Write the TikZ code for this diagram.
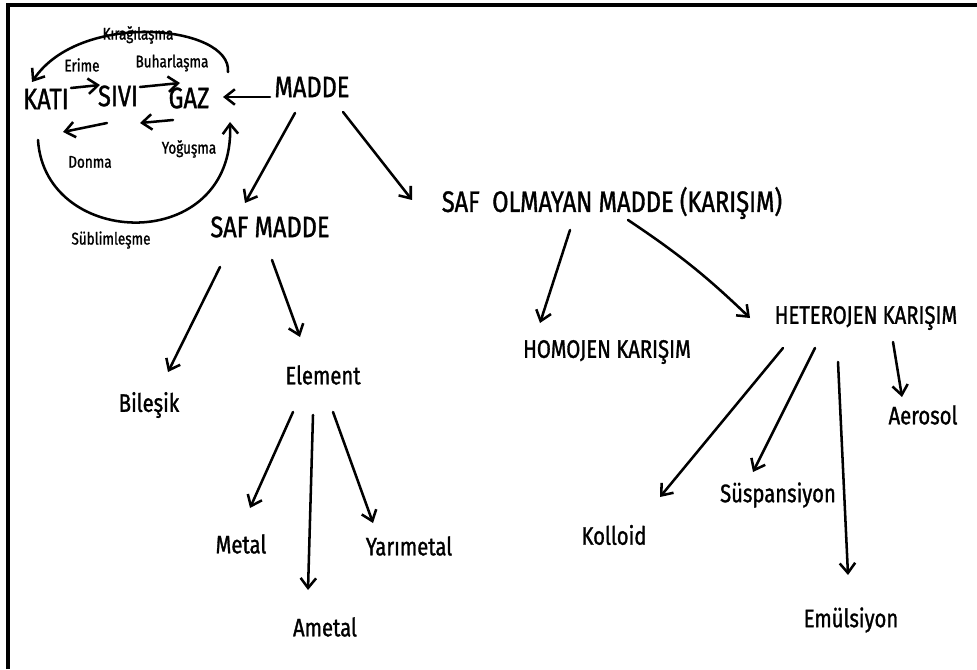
\documentclass[tikz,border=0pt]{standalone}
\usepackage{fontspec}
\setmainfont{Fira Sans}[FakeStretch=0.8,FakeBold=1.2]
\usetikzlibrary{arrows.meta}
\tikzset{
  big/.style={inner sep=0pt,font=\fontsize{21}{21}\selectfont},
  mid/.style={inner sep=0pt,font=\fontsize{18}{18}\selectfont},
  sml/.style={inner sep=0pt,font=\fontsize{12}{12}\selectfont},
  ok/.style={->,line width=1.8pt,line cap=round,line join=round},
  >={Straight Barb[length=7pt,width=11pt]}
}
\begin{document}
\begin{tikzpicture}[x=0.025cm,y=-0.025cm]
\useasboundingbox (0,0) rectangle (977,669);
\draw[line width=2.2pt] (8,669) -- (8,5) -- (977,5);
% hal degisimleri
\node[big] (kati) at (46,99) {KATI};
\node[big] (sivi) at (118,96) {SIVI};
\node[big] (gaz) at (189,98) {GAZ};
\node[sml] (erime) at (82,65) {Erime};
\node[sml] (buhar) at (172,63) {Buharlaşma};
\node[sml] (kirag) at (138,35) {Kırağılaşma};
\node[sml] (donma) at (90,162) {Donma};
\node[sml] (yogus) at (189,149) {Yoğuşma};
\node[sml] (subli) at (111,240) {Süblimleşme};
\draw[ok] ([shift={(25,-11)}]kati.center) -- ([shift={(-18,-11)}]sivi.center);
\draw[ok] ([shift={(22,-9)}]sivi.center) -- ([shift={(-9,-15)}]gaz.center);
\draw[ok] ([shift={(-16,22)}]gaz.center) -- ([shift={(22,27)}]sivi.center);
\draw[ok] ([shift={(-11,27)}]sivi.center) -- ([shift={(17,33)}]kati.center);
\draw[ok] ([shift={(39,-26)}]gaz.center) .. controls (232,25) and (80,10) .. ([shift={(-14,-17)}]kati.center);
\draw[ok] ([shift={(-8,41)}]kati.center) .. controls (45,250) and (235,255) .. ([shift={(41,24)}]gaz.center);
% agac
\node[big] (madde) at (312,87) {MADDE};
\node[big] (saf) at (270,227) {SAF MADDE};
\node[big] (safol) at (612,203) {SAF \ OLMAYAN MADDE (KARIŞIM)};
\node[mid] (homo) at (607,352) {HOMOJEN KARIŞIM};
\node[mid] (hetero) at (866,318) {HETEROJEN KARIŞIM};
\node[mid] (bilesik) at (149,405) {Bileşik};
\node[mid] (element) at (323,375) {Element};
\node[mid] (metal) at (241,544) {Metal};
\node[mid] (ametal) at (325,627) {Ametal};
\node[mid] (yari) at (409,546) {Yarımetal};
\node[mid] (kolloid) at (614,535) {Kolloid};
\node[mid] (susp) at (778,495) {Süspansiyon};
\node[mid] (emul) at (851,620) {Emülsiyon};
\node[mid] (aero) at (923,415) {Aerosol};
\draw[ok] ([shift={(-42,10)}]madde.center) -- ([shift={(34,-1)}]gaz.center);
\draw[ok] ([shift={(-17,26)}]madde.center) -- ([shift={(-25,-24)}]saf.center);
\draw[ok] ([shift={(31,25)}]madde.center) -- ([shift={(-200,-3)}]safol.center);
\draw[ok] ([shift={(-50,40)}]saf.center) -- ([shift={(19,-33)}]bilesik.center);
\draw[ok] ([shift={(2,33)}]saf.center) -- ([shift={(-23,-38)}]element.center);
\draw[ok] ([shift={(-30,37)}]element.center) -- ([shift={(9,-36)}]metal.center);
\draw[ok] ([shift={(-10,40)}]element.center) -- ([shift={(-17,-37)}]ametal.center);
\draw[ok] ([shift={(10,37)}]element.center) -- ([shift={(-36,-23)}]yari.center);
\draw[ok] ([shift={(-42,27)}]safol.center) -- ([shift={(-67,-29)}]homo.center);
\draw[ok] ([shift={(16,17)}]safol.center) to[bend left=5] ([shift={(-116,0)}]hetero.center);
\draw[ok] ([shift={(-83,30)}]hetero.center) -- ([shift={(46,-38)}]kolloid.center);
\draw[ok] ([shift={(-51,30)}]hetero.center) -- ([shift={(-25,-23)}]susp.center);
\draw[ok] ([shift={(-28,44)}]hetero.center) -- ([shift={(-3,-45)}]emul.center);
\draw[ok] ([shift={(27,24)}]hetero.center) -- ([shift={(-21,-18)}]aero.center);
\end{tikzpicture}
\end{document}
